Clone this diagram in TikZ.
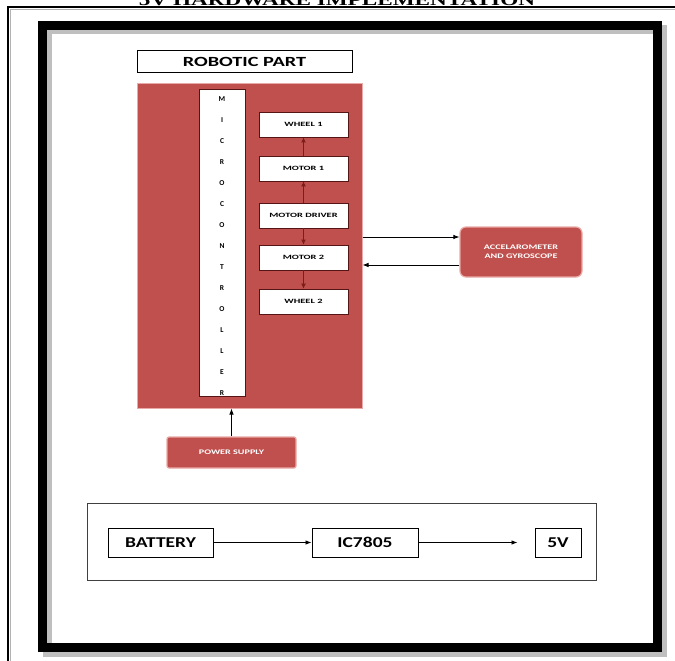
\documentclass[tikz,border=0pt]{standalone}
\usepackage{fontspec}
\setmainfont{Liberation Serif}
\newfontfamily\labfont{Carlito}
\usetikzlibrary{arrows.meta}
\definecolor{rd}{HTML}{C0504D}
\definecolor{rdline}{HTML}{E8A9A7}
\definecolor{drk}{HTML}{7A1E1C}
\newcommand{\xwide}[2]{\scalebox{#1}[1]{#2}}
\tikzset{
  bigbox/.style={draw, line width=1pt, minimum height=29pt, inner sep=0pt,
     font=\labfont\bfseries\fontsize{15}{15}\selectfont},
  smallbox/.style={draw=drk!70!black, fill=white, line width=0.7pt, minimum width=89pt,
     minimum height=25pt, inner sep=0pt, font=\labfont\bfseries\fontsize{6.5}{6.5}\selectfont},
  redbox/.style={draw=rdline, fill=rd, line width=1.2pt, text=white, inner sep=0pt,
     font=\labfont\bfseries\fontsize{7}{9}\selectfont, align=center},
  arr/.style={-{Latex[length=6pt,width=4.5pt]}, line width=0.8pt},
  darr/.style={-{Latex[length=5pt,width=5pt]}, line width=1.6pt, draw=drk, fill=drk}
}
\begin{document}
\begin{tikzpicture}[x=1pt,y=-1pt]
\useasboundingbox (0,0) rectangle (675,661);
\clip (0,0) rectangle (675,661);
\fill[white] (0,0) rectangle (675,661);
% header (cut by the page top)
\node[font=\bfseries\fontsize{16}{16}\selectfont, anchor=base] (title) at (337,6) {\xwide{1.45}{5V HARDWARE IMPLEMENTATION}};
% outer thin frame
\draw[line width=1.4pt] (8,700) -- (8,7) -- (700,7);
\draw[line width=0.6pt, gray!60] (10.5,700) -- (10.5,9.5) -- (700,9.5);
% shadow and thick frame
\draw[line width=9pt, black!25] (47,30) rectangle (662,652);
\draw[line width=9pt] (42.5,25.5) rectangle (657.5,647.5);

% robotic part
\node[bigbox, minimum width=215pt, minimum height=22pt, font=\labfont\bfseries\fontsize{14}{14}\selectfont] (title2) at (244.5,62) {\xwide{1.45}{ROBOTIC PART}};
\node[draw=rdline, fill=rd, line width=1pt, minimum width=225pt, minimum height=324pt, inner sep=0pt] (robot) at (249.5,246) {};
\node[draw=drk!70!black, fill=white, line width=0.7pt, minimum width=46pt, minimum height=307pt, inner sep=0pt] (micro) at (222,242.5) {};
\node[font=\labfont\bfseries\fontsize{7.5}{21}\selectfont, align=center, anchor=north] (microtxt) at (222,93)
  {M\\I\\C\\R\\O\\C\\O\\N\\T\\R\\O\\L\\L\\E\\R};

\node[smallbox] (w1) at (303.5,124.5) {\xwide{1.6}{WHEEL 1}};
\node[smallbox] (m1) at (303.5,168.5) {\xwide{1.6}{MOTOR 1}};
\node[smallbox] (md) at (303.5,215.5) {\xwide{1.6}{MOTOR DRIVER}};
\node[smallbox] (m2) at (303.5,257.5) {\xwide{1.6}{MOTOR 2}};
\node[smallbox] (w2) at (303.5,301.5) {\xwide{1.6}{WHEEL 2}};
\draw[darr] (m1) -- (w1);
\draw[darr] (md) -- (m1);
\draw[darr] (md) -- (m2);
\draw[darr] (m2) -- (w2);

% accelerometer
\node[redbox, rounded corners=6pt, minimum width=122pt, minimum height=50pt] (acc) at (521,252) {\xwide{1.45}{ACCELAROMETER}\\\xwide{1.45}{AND GYROSCOPE}};
\coordinate (a1) at (521,237);
\coordinate (a2) at (521,265);
\draw[arr] (a1 -| robot.east) -- (a1 -| acc.west);
\draw[arr] (a2 -| acc.west) -- (a2 -| robot.east);

% power supply
\node[redbox, rounded corners=2pt, minimum width=129pt, minimum height=31pt] (power) at (231.5,452.5) {\xwide{1.45}{POWER SUPPLY}};
\draw[arr] (power.north) -- (power.north |- robot.south);

% bottom block
\node[draw=black!75, line width=1pt, minimum width=509pt, minimum height=77pt, inner sep=0pt] (supply) at (341.5,541.5) {};
\node[bigbox, minimum width=105pt] (bat) at (160.5,542.5) {\xwide{1.3}{BATTERY}};
\node[bigbox, minimum width=106pt] (ic) at (365,542.5) {\xwide{1.3}{IC7805}};
\node[bigbox, minimum width=46pt] (v5) at (558,542.5) {\xwide{1.3}{5V}};
\draw[arr] (bat) -- (ic);
\draw[arr, shorten >=17pt] (ic) -- (v5);
\end{tikzpicture}
\end{document}
